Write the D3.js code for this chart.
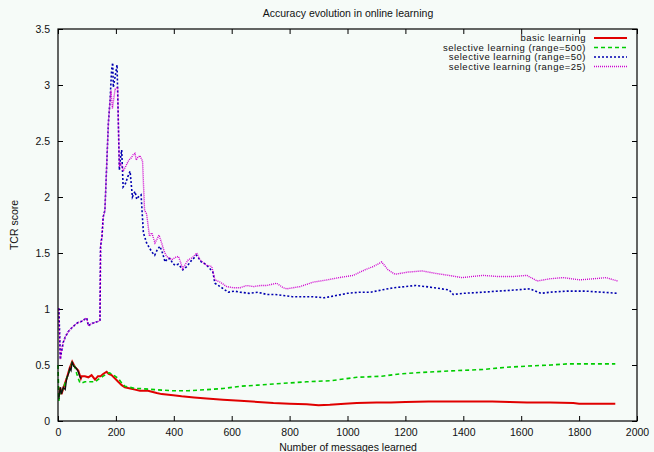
<!DOCTYPE html>
<html>
<head>
<meta charset="utf-8">
<script src="https://cdn.jsdelivr.net/npm/d3@7"></script>
<style>
body { margin: 0; background: #f6fbf8; }
svg text { font-family: "Liberation Sans", Arial, sans-serif; fill: #111; }
</style>
</head>
<body>
<svg id="svg" width="654" height="452"></svg>
<script>
// values: [messages learned, TCR score]
var basic = [[3,0.22],[8,0.3],[12,0.24],[22,0.32],[30,0.38],[40,0.47],[49,0.53],[59,0.48],[70,0.45],[79,0.38],[82,0.40],[93,0.40],[105,0.39],[116,0.41],[128,0.37],[138,0.40],[147,0.40],[156,0.42],[168,0.44],[175,0.42],[185,0.41],[197,0.38],[208,0.35],[220,0.32],[231,0.30],[250,0.29],[266,0.28],[283,0.27],[311,0.27],[341,0.25],[358,0.24],[398,0.23],[427,0.22],[470,0.21],[513,0.20],[570,0.19],[629,0.18],[690,0.17],[744,0.16],[800,0.155],[859,0.15],[900,0.14],[939,0.145],[990,0.155],[1032,0.16],[1100,0.165],[1150,0.165],[1200,0.17],[1280,0.175],[1350,0.175],[1420,0.175],[1500,0.175],[1560,0.17],[1620,0.165],[1700,0.165],[1780,0.16],[1800,0.155],[1860,0.155],[1925,0.155]];
var startup = [[3,0.2],[8,0.3],[12,0.24],[18,0.3],[25,0.28],[30,0.38],[36,0.42],[41,0.47],[45,0.45],[49,0.53],[54,0.49],[59,0.48],[64,0.47],[70,0.44],[75,0.4],[79,0.38]];
var sel500 = [[0,0.5],[3,0.18],[8,0.28],[12,0.26],[20,0.3],[30,0.38],[41,0.46],[49,0.52],[59,0.48],[65,0.42],[70,0.38],[76,0.34],[82,0.34],[93,0.35],[105,0.35],[116,0.35],[128,0.35],[138,0.37],[145,0.38],[156,0.40],[168,0.42],[178,0.43],[185,0.42],[197,0.40],[208,0.38],[220,0.34],[231,0.31],[250,0.30],[266,0.29],[283,0.29],[334,0.28],[398,0.27],[450,0.27],[513,0.28],[570,0.29],[629,0.31],[690,0.32],[744,0.33],[800,0.34],[859,0.35],[943,0.36],[1032,0.39],[1118,0.40],[1180,0.42],[1235,0.43],[1300,0.44],[1380,0.45],[1468,0.46],[1550,0.48],[1620,0.49],[1703,0.50],[1760,0.51],[1820,0.51],[1880,0.51],[1925,0.51]];
var sel50 = [[0,1.0],[3,1.0],[8,0.55],[12,0.62],[18,0.7],[25,0.75],[36,0.8],[47,0.83],[59,0.86],[70,0.88],[82,0.89],[93,0.91],[99,0.92],[105,0.85],[116,0.87],[128,0.88],[139,0.89],[145,0.9],[147,1.56],[152,1.65],[156,1.82],[162,1.88],[168,2.27],[174,2.66],[180,2.87],[185,3.13],[189,3.2],[191,2.98],[197,3.07],[204,3.18],[208,2.72],[212,2.24],[216,2.35],[220,2.42],[225,2.09],[233,2.12],[241,2.18],[249,2.23],[257,2.0],[266,2.05],[272,1.98],[277,2.0],[287,2.02],[295,1.68],[306,1.59],[315,1.55],[324,1.51],[334,1.48],[343,1.53],[352,1.56],[361,1.5],[370,1.42],[378,1.45],[387,1.45],[396,1.41],[404,1.39],[416,1.4],[431,1.35],[445,1.38],[460,1.43],[479,1.48],[495,1.42],[510,1.4],[525,1.36],[535,1.33],[542,1.23],[560,1.2],[588,1.15],[610,1.16],[629,1.15],[660,1.14],[690,1.15],[721,1.13],[750,1.13],[778,1.12],[810,1.11],[836,1.11],[880,1.11],[919,1.10],[960,1.12],[1000,1.14],[1040,1.15],[1080,1.15],[1118,1.17],[1160,1.19],[1200,1.2],[1235,1.21],[1270,1.2],[1300,1.19],[1351,1.17],[1365,1.13],[1400,1.14],[1468,1.15],[1520,1.16],[1580,1.17],[1630,1.18],[1668,1.14],[1700,1.15],[1762,1.16],[1820,1.16],[1880,1.15],[1933,1.14]];
var sel25 = [[0,1.0],[3,1.0],[8,0.55],[12,0.62],[18,0.7],[25,0.75],[36,0.8],[47,0.83],[59,0.86],[70,0.88],[82,0.89],[93,0.91],[99,0.92],[105,0.85],[116,0.87],[128,0.88],[139,0.89],[145,0.9],[147,1.56],[152,1.65],[156,1.82],[162,1.88],[168,2.27],[174,2.66],[180,2.87],[183,2.95],[188,2.79],[197,2.96],[206,2.98],[209,2.6],[212,2.27],[216,2.3],[220,2.29],[225,2.23],[237,2.29],[245,2.33],[253,2.35],[260,2.38],[266,2.39],[270,2.33],[275,2.35],[283,2.37],[292,2.32],[299,1.88],[306,1.85],[316,1.65],[324,1.68],[335,1.59],[349,1.66],[358,1.59],[366,1.52],[375,1.47],[393,1.44],[405,1.46],[416,1.47],[431,1.36],[440,1.4],[450,1.44],[465,1.46],[479,1.5],[490,1.44],[513,1.39],[531,1.38],[542,1.26],[560,1.24],[583,1.2],[605,1.19],[629,1.19],[652,1.21],[675,1.2],[700,1.21],[721,1.21],[755,1.23],[778,1.19],[790,1.18],[836,1.2],[882,1.24],[930,1.26],[970,1.28],[1020,1.30],[1060,1.35],[1090,1.38],[1118,1.42],[1140,1.35],[1164,1.31],[1210,1.33],[1258,1.34],[1300,1.32],[1350,1.30],[1396,1.28],[1430,1.29],[1468,1.30],[1520,1.29],[1572,1.29],[1620,1.30],[1655,1.25],[1700,1.27],[1745,1.28],[1803,1.26],[1850,1.27],[1893,1.28],[1933,1.25]];

var xTicks = [0,200,400,600,800,1000,1200,1400,1600,1800,2000];
var yTicks = [0,0.5,1,1.5,2,2.5,3,3.5];
var labels = ["basic learning","selective learning (range=500)","selective learning (range=50)","selective learning (range=25)"];

var pL = 58, pR = 637, pT = 29, pB = 421;
var svg = d3.select("#svg");
var x = d3.scaleLinear().domain([0,2000]).range([pL,pR]);
var y = d3.scaleLinear().domain([0,3.5]).range([pB,pT]);

svg.append("rect").attr("x",0).attr("y",0).attr("width",654).attr("height",452).attr("fill","#f6fbf8");

// title and axis titles
svg.append("text").attr("x",348).attr("y",17).attr("text-anchor","middle")
    .attr("font-size","10.5px").text("Accuracy evolution in online learning");
svg.append("text").attr("x",348).attr("y",451).attr("text-anchor","middle")
    .attr("font-size","10.5px").text("Number of messages learned");
svg.append("text").attr("transform","translate(18,225) rotate(-90)").attr("text-anchor","middle")
    .attr("font-size","10.5px").text("TCR score");

// gnuplot style ticks: inward, mirrored
var ax = function(g){ g.select(".domain").remove(); g.selectAll("text").attr("font-size","10.5px").attr("fill","#111"); g.selectAll("line").attr("stroke","#000"); };
svg.append("g").attr("transform","translate(0,"+pB+")")
    .call(d3.axisBottom(x).tickValues(xTicks).tickSize(-5).tickPadding(8).tickFormat(d3.format("d"))).call(ax);
svg.append("g").attr("transform","translate(0,"+pT+")")
    .call(d3.axisTop(x).tickValues(xTicks).tickSize(-5).tickFormat("")).call(ax);
svg.append("g").attr("transform","translate("+pL+",0)")
    .call(d3.axisLeft(y).tickValues(yTicks).tickSize(-5).tickPadding(8).tickFormat(d3.format("~g"))).call(ax);
svg.append("g").attr("transform","translate("+pR+",0)")
    .call(d3.axisRight(y).tickValues(yTicks).tickSize(-5).tickFormat("")).call(ax);

var line = d3.line().x(function(d){ return x(d[0]); }).y(function(d){ return y(d[1]); });

var series = [
    {data: basic, color: "#e00000", dash: null, w: 2},
    {data: sel500, color: "#00cc00", dash: "4,3", w: 1.6},
    {data: sel50, color: "#0000b0", dash: "2,2", w: 1.6},
    {data: sel25, color: "#d000d0", dash: "1,1", w: 1.4}
];
series.forEach(function(s){
    svg.append("path").attr("d", line(s.data)).attr("fill","none")
	.attr("stroke", s.color).attr("stroke-width", s.w)
	.attr("stroke-dasharray", s.dash);
});
svg.append("path").attr("d", line(startup)).attr("fill","none").attr("stroke","#111").attr("stroke-width",1.3);

// frame
svg.append("rect").attr("x",pL).attr("y",pT).attr("width",pR-pL).attr("height",pB-pT)
    .attr("fill","none").attr("stroke","#000").attr("stroke-width",1.2);

// legend
var rows = [38,47.5,57,66.5];
series.forEach(function(s,i){
    svg.append("text").attr("x",586).attr("y",rows[i]+3.3).attr("text-anchor","end")
	.attr("font-size","9.5px").attr("letter-spacing","0.5px").text(labels[i]);
    svg.append("line").attr("x1",594).attr("x2",627).attr("y1",rows[i]).attr("y2",rows[i])
	.attr("stroke", s.color).attr("stroke-width", s.w).attr("stroke-dasharray", s.dash);
});
</script>
</body>
</html>
